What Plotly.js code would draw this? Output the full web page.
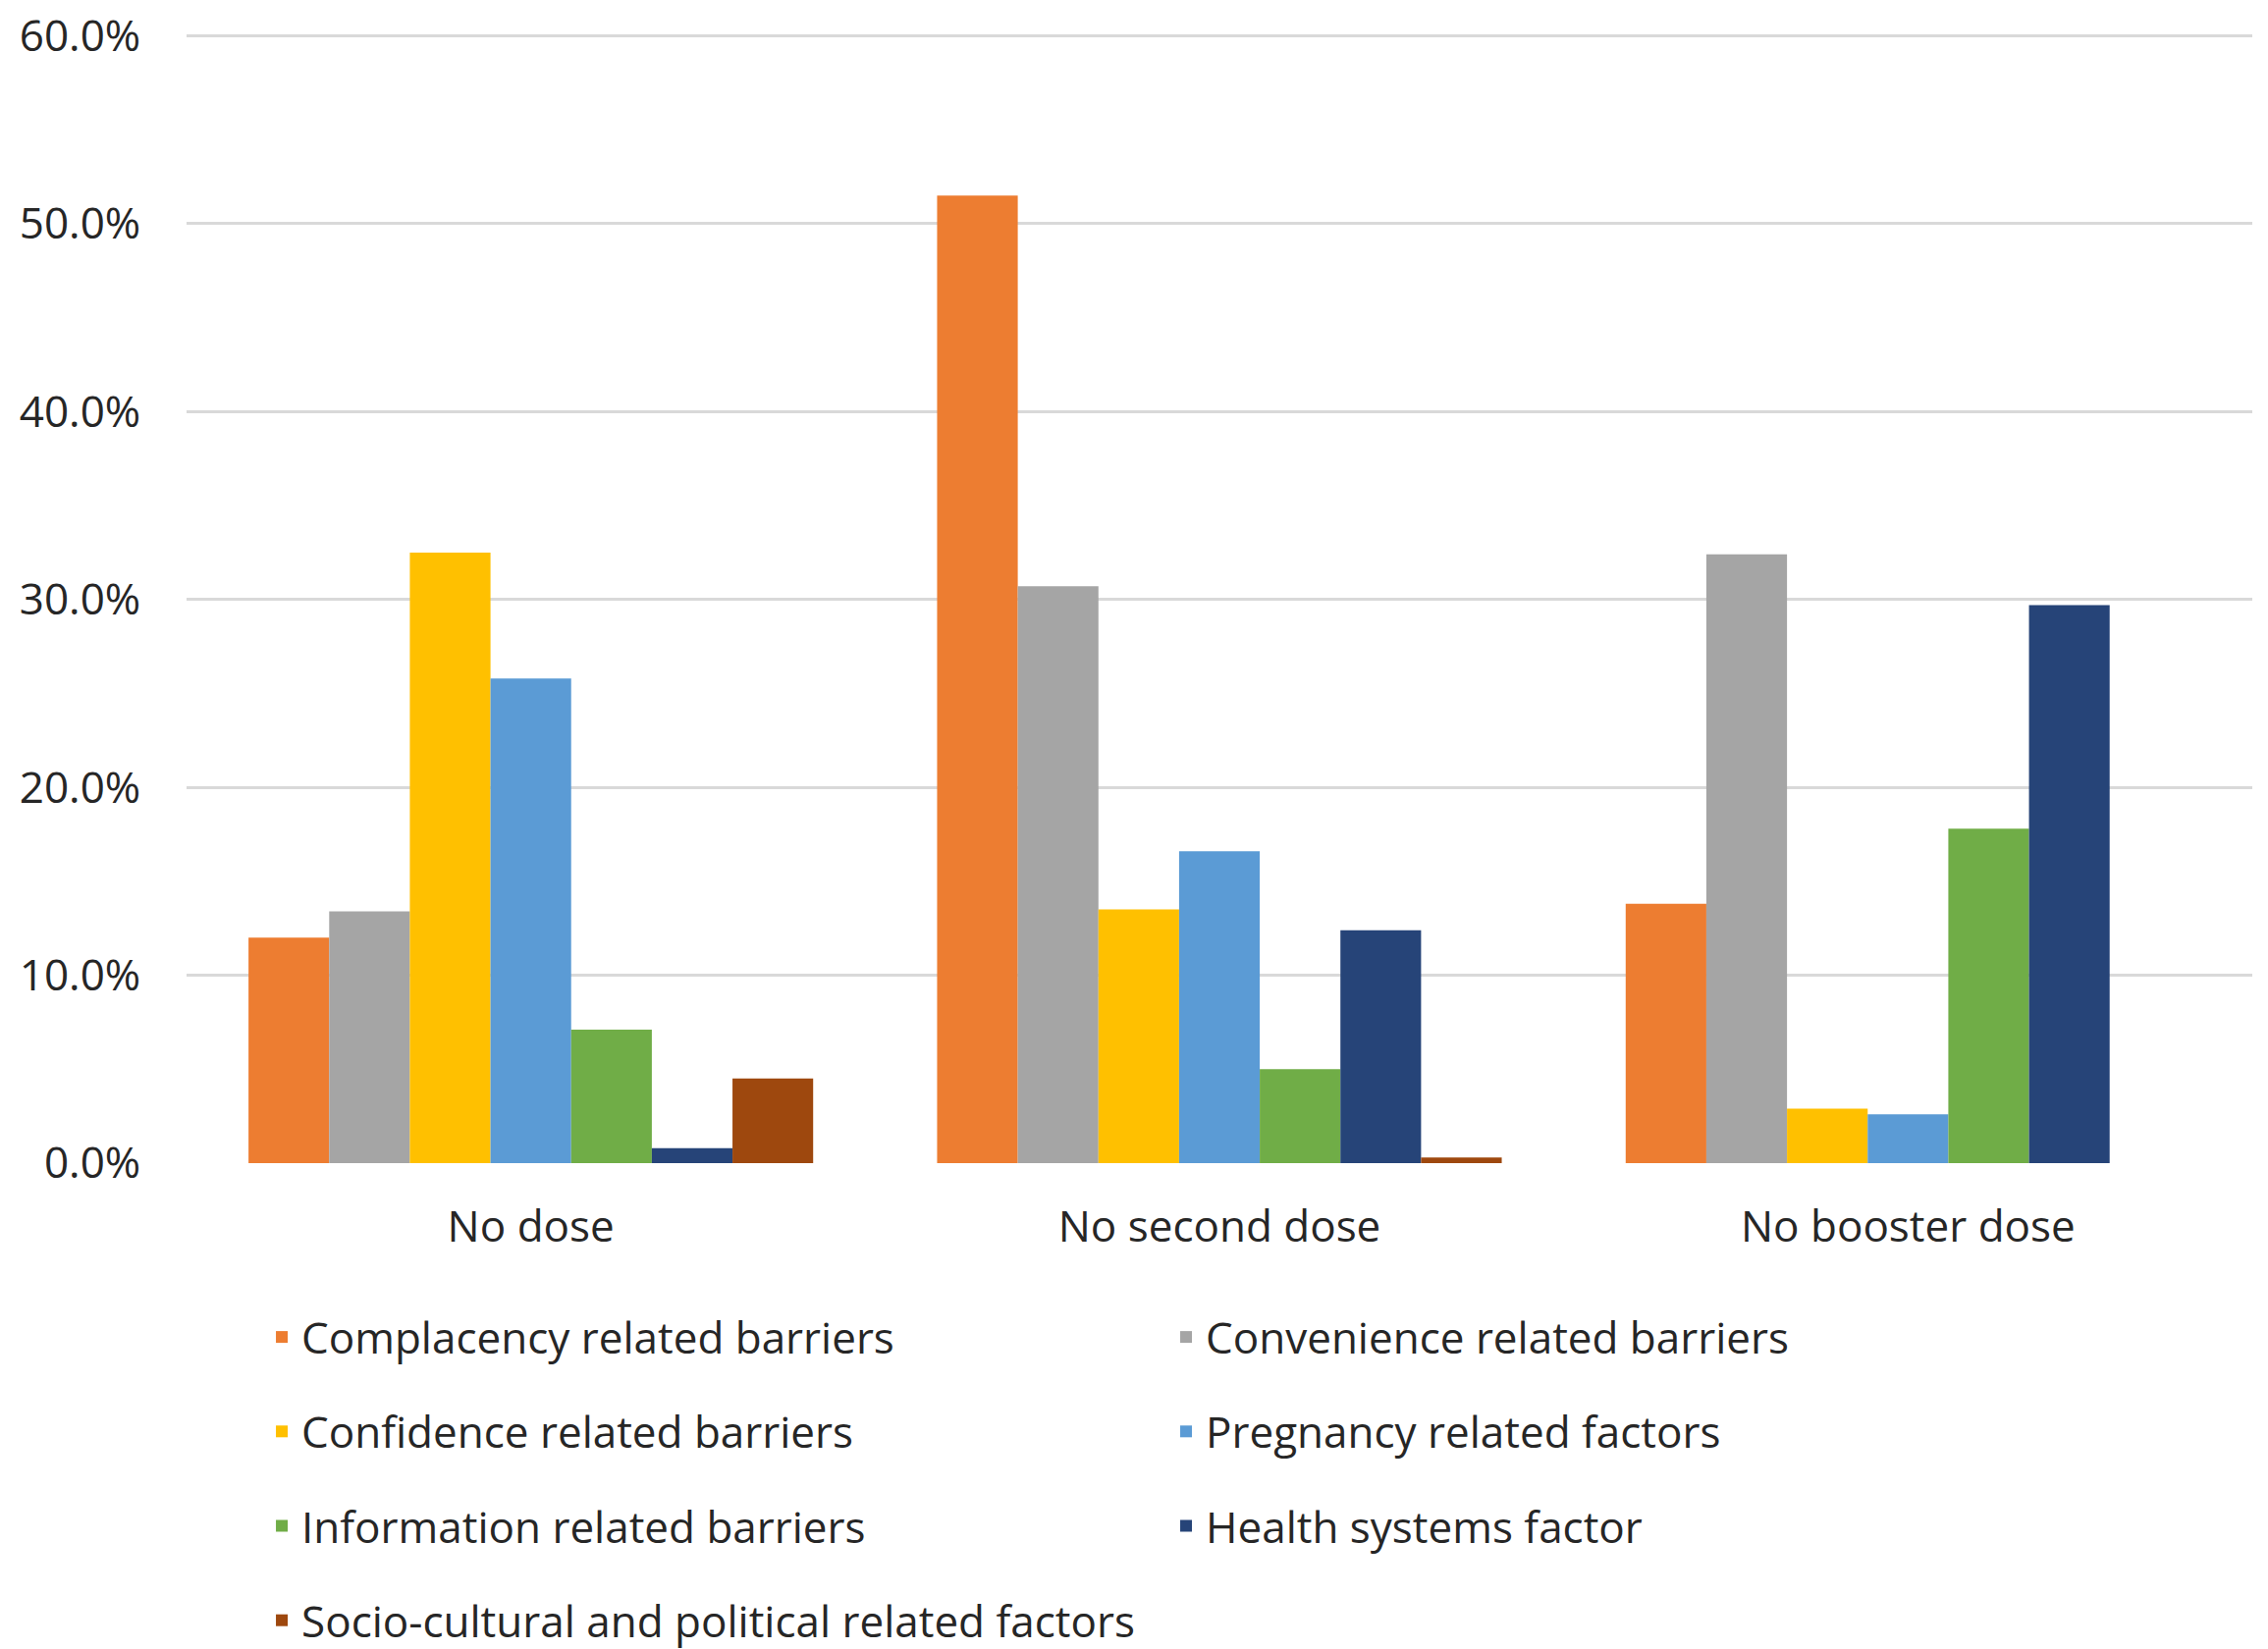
<!DOCTYPE html>
<html>
<head>
<meta charset="utf-8">
<script src="https://cdn.plot.ly/plotly-3.0.1.min.js"></script>
<style>html,body{margin:0;padding:0;background:#fff;}#chart{width:2310px;height:1680px;}</style>
</head>
<body>
<div id="chart"></div>
<script>
const categories = ["No dose", "No second dose", "No booster dose"];
const seriesNames = [
  "Complacency related barriers",
  "Convenience related barriers",
  "Confidence related barriers",
  "Pregnancy related factors",
  "Information related barriers",
  "Health systems factor",
  "Socio-cultural and political related factors"
];
const complacency = [12.0, 51.5, 13.8];
const convenience = [13.4, 30.7, 32.4];
const confidence  = [32.5, 13.5, 2.9];
const pregnancy   = [25.8, 16.6, 2.6];
const information = [7.1, 5.0, 17.8];
const health      = [0.8, 12.4, 29.7];
const sociocultural = [4.5, 0.3, 0];
const colors = ["#ED7D31", "#A5A5A5", "#FFC000", "#5B9BD5", "#70AD47", "#264478", "#9E480E"];
const legendFor = ["legend", "legend2", "legend", "legend2", "legend", "legend2", "legend"];
const yTicks = [0, 10, 20, 30, 40, 50, 60];

const values = [complacency, convenience, confidence, pregnancy, information, health, sociocultural];
const font = {family: "Open Sans, Noto Sans, sans-serif", size: 44, color: "#262626"};

const traces = values.map((v, i) => ({
  type: "bar",
  name: seriesNames[i],
  x: categories,
  y: v,
  marker: {color: colors[i], line: {width: 0}},
  legend: legendFor[i],
  legendgroup: "g" + i,
  hoverinfo: "x+y+name"
}));

const legendBase = {
  orientation: "v",
  xref: "container", yref: "container",
  yanchor: "top", xanchor: "left",
  font: font,
  tracegroupgap: 36,
  bgcolor: "rgba(0,0,0,0)",
  traceorder: "grouped"
};

const layout = {
  width: 2310, height: 1680,
  paper_bgcolor: "#ffffff", plot_bgcolor: "#ffffff",
  font: font,
  barmode: "group",
  bargap: 0.18,
  bargroupgap: 0,
  margin: {l: 190, r: 16, t: 35, b: 495, autoexpand: false},
  showlegend: true,
  legend: Object.assign({}, legendBase, {x: 0.1156, y: 1 - 1327 / 1680}),
  legend2: Object.assign({}, legendBase, {x: 0.5143, y: 1 - 1327 / 1680}),
  xaxis: {
    type: "category",
    showgrid: false, zeroline: false, showline: false,
    ticks: "outside", ticklen: 26, tickcolor: "rgba(0,0,0,0)",
    tickangle: 0,
    tickfont: font
  },
  yaxis: {
    range: [0, 60.08],
    tickvals: yTicks,
    ticktext: yTicks.map(t => t.toFixed(1) + "%"),
    showgrid: true, gridcolor: "#D9D9D9", gridwidth: 3,
    zeroline: false, showline: false,
    ticks: "outside", ticklen: 37, tickcolor: "rgba(0,0,0,0)",
    tickfont: font
  }
};

Plotly.newPlot("chart", traces, layout, {displayModeBar: false, staticPlot: true});
</script>
</body>
</html>
